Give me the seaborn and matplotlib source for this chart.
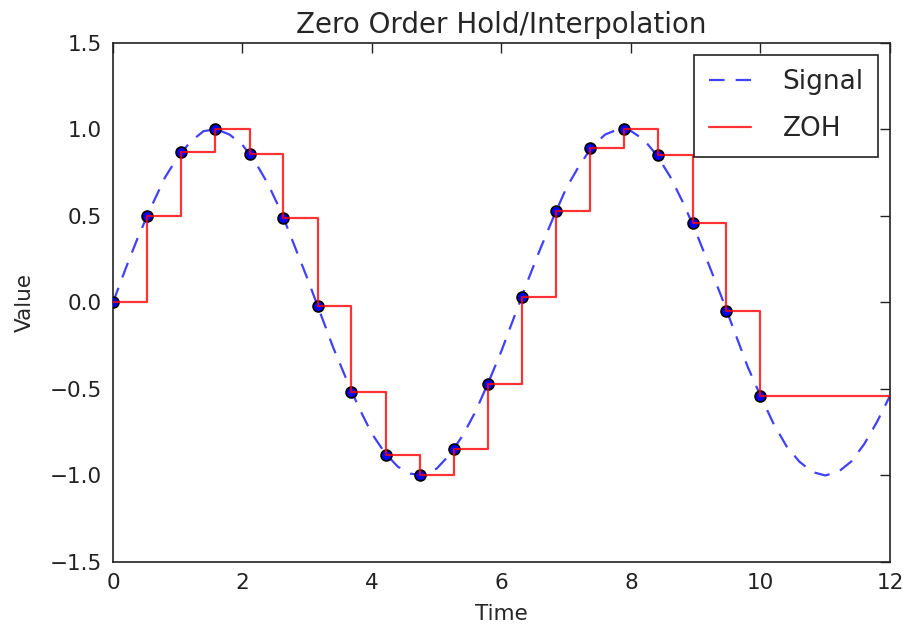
import matplotlib
matplotlib.use("Agg")
import matplotlib.pyplot as plt
import seaborn as sns
import pandas as pd

# Continuous signal
signal_t = [0.0, 0.2, 0.4, 0.6, 0.8, 1.0, 1.2, 1.4, 1.6, 1.8, 2.0, 2.2, 2.4, 2.6, 2.8,
            3.0, 3.2, 3.4, 3.6, 3.8, 4.0, 4.2, 4.4, 4.6, 4.8, 5.0, 5.2, 5.4, 5.6, 5.8,
            6.0, 6.2, 6.4, 6.6, 6.8, 7.0, 7.2, 7.4, 7.6, 7.8, 8.0, 8.2, 8.4, 8.6, 8.8,
            9.0, 9.2, 9.4, 9.6, 9.8, 10.0, 10.2, 10.4, 10.6, 10.8, 11.0, 11.2, 11.4,
            11.6, 11.8, 12.0]
signal_v = [0.00, 0.20, 0.39, 0.56, 0.72, 0.84, 0.93, 0.99, 1.00, 0.97, 0.91, 0.81, 0.68,
            0.52, 0.33, 0.14, -0.06, -0.26, -0.44, -0.61, -0.76, -0.87, -0.95, -0.99,
            -1.00, -0.96, -0.88, -0.77, -0.63, -0.46, -0.28, -0.08, 0.12, 0.31, 0.49,
            0.66, 0.79, 0.90, 0.97, 1.00, 0.99, 0.94, 0.85, 0.73, 0.58, 0.41, 0.22,
            0.03, -0.17, -0.37, -0.54, -0.70, -0.83, -0.92, -0.98, -1.00, -0.98, -0.92,
            -0.82, -0.69, -0.54]

# Sampled points
sample_t = [0.00, 0.53, 1.05, 1.58, 2.11, 2.63, 3.16, 3.68, 4.21, 4.74,
            5.26, 5.79, 6.32, 6.84, 7.37, 7.89, 8.42, 8.95, 9.47, 10.00]
sample_v = [0.00, 0.50, 0.87, 1.00, 0.86, 0.49, -0.02, -0.52, -0.88, -1.00,
            -0.85, -0.47, 0.03, 0.53, 0.89, 1.00, 0.85, 0.46, -0.05, -0.54]

# Zero-order hold extends last sample to the end of the axis
zoh_t = sample_t + [12.0]
zoh_v = sample_v + [-0.54]

x_ticks = [0, 2, 4, 6, 8, 10, 12]
y_ticks = [-1.5, -1.0, -0.5, 0.0, 0.5, 1.0, 1.5]

sns.set_style("white")
plt.rcParams['font.family'] = ['DejaVu Sans']
plt.rcParams['axes.unicode_minus'] = True

fig = plt.figure(figsize=(9.04, 6.30), dpi=100)
ax = fig.add_axes([0.125, 0.108, 0.8595, 0.824])

sig_df = pd.DataFrame({"t": signal_t, "v": signal_v})
smp_df = pd.DataFrame({"t": sample_t, "v": sample_v})
zoh_df = pd.DataFrame({"t": zoh_t, "v": zoh_v})

sns.lineplot(data=sig_df, x="t", y="v", ax=ax, color=(0.0, 0.0, 1.0, 0.75),
             linewidth=1.6, linestyle=(0, (7, 5)), sort=False, label="Signal",
             zorder=2)
sns.scatterplot(data=smp_df, x="t", y="v", ax=ax, color="blue", edgecolor="black",
                linewidth=1.3, s=60, zorder=3, legend=False)
sns.lineplot(data=zoh_df, x="t", y="v", ax=ax, color=(1.0, 0.0, 0.0, 0.8),
             linewidth=1.6, drawstyle="steps-post", sort=False, label="ZOH",
             zorder=4)

ax.set_xlim(0, 12)
ax.set_ylim(-1.5, 1.5)
ax.set_xticks(x_ticks)
ax.set_yticks(y_ticks)
ax.set_xticklabels([str(v) for v in x_ticks])
ax.set_yticklabels([f"{v:.1f}".replace("-", "\u2212") for v in y_ticks])
ax.tick_params(direction="in", length=7, width=1, top=True, right=True,
               labelsize=15.5, colors="#222222", pad=8)
for sp in ax.spines.values():
    sp.set_color("#222222")
    sp.set_linewidth(1.2)

ax.set_xlabel("Time", fontsize=15.5, labelpad=8)
ax.set_ylabel("Value", fontsize=15.5, labelpad=11)
ax.set_title("Zero Order Hold/Interpolation", fontsize=20, pad=7)

leg = ax.legend(loc="upper right", fontsize=19, fancybox=False, frameon=True,
                framealpha=1, edgecolor="#222222", handlelength=1.6,
                borderpad=0.55, handletextpad=1.2, labelspacing=0.8,
                borderaxespad=0.45)
leg.get_frame().set_linewidth(1.2)

fig.savefig("out.png", dpi=100)
